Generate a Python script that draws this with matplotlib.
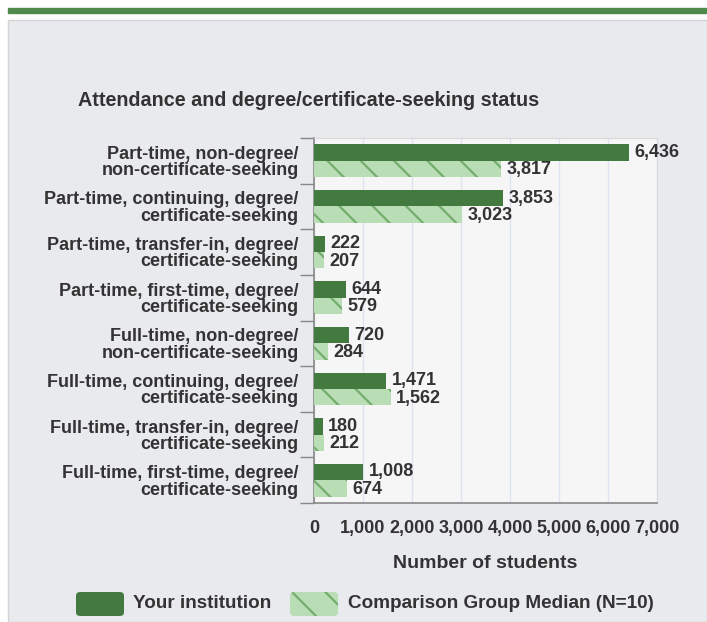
import numpy as np
import matplotlib
matplotlib.use("Agg")
import matplotlib.pyplot as plt
from matplotlib.patches import Rectangle, FancyBboxPatch
from matplotlib.ticker import FuncFormatter, MultipleLocator

# Data (top to bottom as shown)
categories = [
    "Part-time, non-degree/\nnon-certificate-seeking",
    "Part-time, continuing, degree/\ncertificate-seeking",
    "Part-time, transfer-in, degree/\ncertificate-seeking",
    "Part-time, first-time, degree/\ncertificate-seeking",
    "Full-time, non-degree/\nnon-certificate-seeking",
    "Full-time, continuing, degree/\ncertificate-seeking",
    "Full-time, transfer-in, degree/\ncertificate-seeking",
    "Full-time, first-time, degree/\ncertificate-seeking",
]
institution = [6436, 3853, 222, 644, 720, 1471, 180, 1008]
comparison = [3817, 3023, 207, 579, 284, 1562, 212, 674]
x_ticks = [0, 1000, 2000, 3000, 4000, 5000, 6000, 7000]

DARK = "#437a3f"
LIGHT = "#b9ddb4"
HATCH = "#74ad6e"
TEXT = "#333333"

plt.rcParams["font.family"] = ["Liberation Sans", "DejaVu Sans"]
plt.rcParams["font.weight"] = "bold"
plt.rcParams["hatch.linewidth"] = 1.6

fig = plt.figure(figsize=(7.07, 6.22), dpi=100)
fig.patch.set_facecolor("white")

W, H = 707, 622
# top green strip and grey panel
fig.patches.append(Rectangle((8 / W, 1 - 13 / H), 699 / W, 5 / H,
                             transform=fig.transFigure, color="#4f8a4b", zorder=-2))
fig.patches.append(Rectangle((8 / W, 0), 699 / W, 1 - 20 / H,
                             transform=fig.transFigure, facecolor="#e9eaee",
                             edgecolor="#d4d4d4", lw=1, zorder=-2))

ax = fig.add_axes([314 / W, 1 - 503 / H, 343 / W, 365 / H])
ax.set_facecolor("#f6f6f6")

n = len(categories)
y = np.arange(n)
bh = 0.36
ax.barh(y - bh / 2, institution, height=bh, color=DARK, zorder=3)
ax.barh(y + bh / 2, comparison, height=bh, color=LIGHT, hatch="\\",
        edgecolor=HATCH, linewidth=0, zorder=3)

for i in range(n):
    ax.text(institution[i] + 110, y[i] - bh / 2, f"{institution[i]:,}",
            va="center", ha="left", fontsize=13, color=TEXT, zorder=5)
    ax.text(comparison[i] + 110, y[i] + bh / 2 + 0.02, f"{comparison[i]:,}",
            va="center", ha="left", fontsize=13, color=TEXT, zorder=5)

ax.set_xlim(0, 7000)
ax.set_ylim(n - 0.5, -0.5)
ax.set_xticks(x_ticks)
ax.xaxis.set_major_formatter(FuncFormatter(lambda v, p: f"{int(v):,}"))
ax.grid(axis="x", color="#dde3ef", lw=1, zorder=0)

ax.set_yticks(y)
ax.set_yticklabels(categories, fontsize=13, color=TEXT, linespacing=0.95)
ax.yaxis.set_minor_locator(MultipleLocator(1, offset=0.5))
ax.tick_params(axis="y", which="major", length=0, pad=11)
ax.tick_params(axis="y", which="minor", length=10, color="#888888", width=1)
ax.tick_params(axis="x", length=0, pad=12, labelsize=13, labelcolor=TEXT)

for s in ["top", "right"]:
    ax.spines[s].set_color("#d8d8d8")
for s in ["left", "bottom"]:
    ax.spines[s].set_color("#888888")
    ax.spines[s].set_linewidth(1.2)

ax.set_xlabel("Number of students", fontsize=14, color=TEXT, labelpad=13,
              fontweight="bold")

fig.text(78 / W, 1 - 100 / H, "Attendance and degree/certificate-seeking status",
         fontsize=14.2, color=TEXT, va="center", ha="left")

# legend
ly = 1 - 604 / H
fig.patches.append(FancyBboxPatch((76 / W, ly - 12 / H), 48 / W, 24 / H,
                                  boxstyle="round,pad=0,rounding_size=0.006",
                                  transform=fig.transFigure, facecolor=DARK,
                                  edgecolor=DARK, linewidth=0))
fig.text(133 / W, ly, "Your institution", fontsize=13.6, color=TEXT, va="center")
fig.patches.append(FancyBboxPatch((290 / W, ly - 12 / H), 48 / W, 24 / H,
                                  boxstyle="round,pad=0,rounding_size=0.006",
                                  transform=fig.transFigure, facecolor=LIGHT,
                                  edgecolor=HATCH, hatch="\\", linewidth=0))
fig.text(348 / W, ly, "Comparison Group Median (N=10)", fontsize=13.6,
         color=TEXT, va="center")

fig.savefig("out.png", dpi=100)
